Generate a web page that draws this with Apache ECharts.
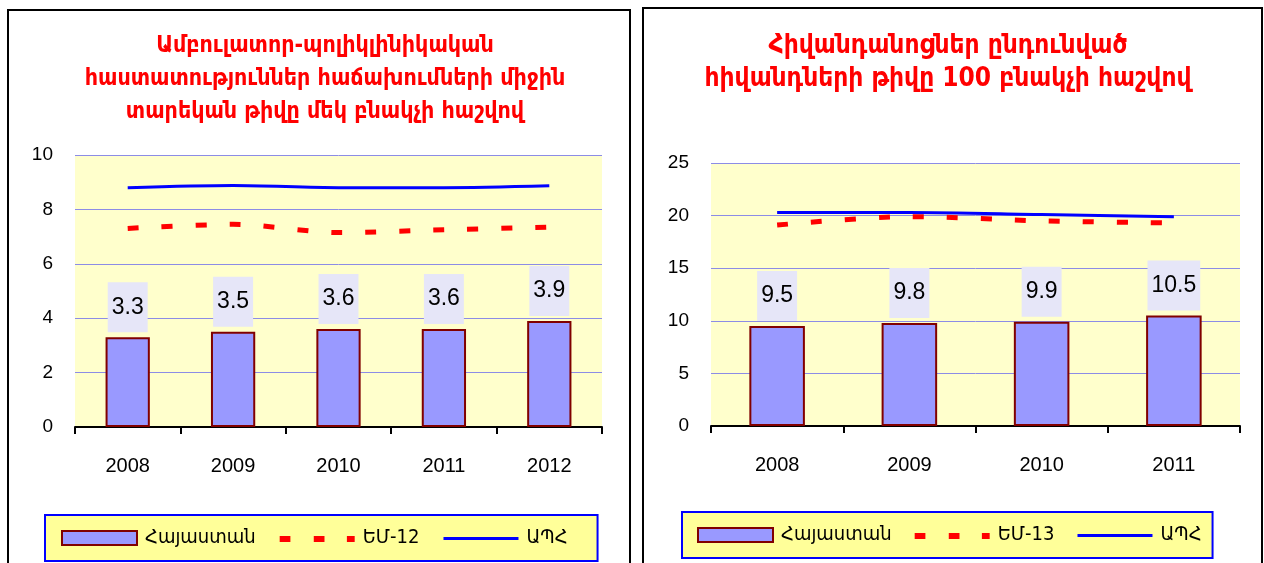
<!DOCTYPE html>
<html><head><meta charset="utf-8">
<script src="https://cdn.jsdelivr.net/npm/echarts@6/dist/echarts.min.js"></script>
<style>html,body{margin:0;padding:0;background:#fff}#c{width:1264px;height:563px}</style>
</head><body><div id="c"></div>
<script>
const yearsL = ['2008','2009','2010','2011','2012'];
const armeniaL = [3.3, 3.5, 3.6, 3.6, 3.9];
const eu12 = [7.3, 7.45, 7.15, 7.25, 7.35];
const cisL = [8.8, 8.88, 8.8, 8.8, 8.87];
const yearsR = ['2008','2009','2010','2011'];
const armeniaR = [9.5, 9.8, 9.9, 10.5];
const eu13 = [19.1, 19.9, 19.5, 19.3];
const cisR = [20.3, 20.3, 20.1, 19.9];
const titleL = 'Ամբուլատոր-պոլիկլինիկական\nհաստատություններ հաճախումների միջին\nտարեկան թիվը մեկ բնակչի հաշվով';
const titleR = 'Հիվանդանոցներ ընդունված\nհիվանդների թիվը 100 բնակչի հաշվով';
const nameA = 'Հայաստան', nameEU12 = 'ԵՄ-12', nameEU13 = 'ԵՄ-13', nameCIS = 'ԱՊՀ';

const FONT = "'Liberation Sans', 'DejaVu Sans', Arial, sans-serif";
const CFONT = "'DejaVu Sans Condensed', 'DejaVu Sans', sans-serif";
const chart = echarts.init(document.getElementById('c'), null, {renderer: 'canvas'});

const ICON_DASH = 'path://M0,0 M0,5h11v6h-11z M35,5h11v6h-11z M69,5h8v6h-8z M77,14';
const ICON_LINE = 'path://M0,0 M0,6h75v3h-75z M75,14';

function xAxis(idx, data) {
  return {
    type: 'category', gridIndex: idx, data: data, boundaryGap: true,
    axisLine: {lineStyle: {color: '#000', width: 2}},
    axisTick: {show: true, length: 7, lineStyle: {color: '#000', width: 2}},
    axisLabel: {color: '#000', fontSize: 20, fontFamily: FONT, margin: 29}
  };
}
function yAxis(idx, max, interval) {
  return {
    type: 'value', gridIndex: idx, min: 0, max: max, interval: interval,
    axisLine: {show: false}, axisTick: {show: false},
    axisLabel: {color: '#000', fontSize: 19, fontFamily: FONT, margin: 22},
    splitLine: {lineStyle: {color: '#8c8ce6', width: 1}}
  };
}
function barSeries(idx, data, bw) {
  return {
    name: nameA, type: 'bar', xAxisIndex: idx, yAxisIndex: idx, data: data, barWidth: bw,
    itemStyle: {color: '#9999ff', borderColor: '#800000', borderWidth: 2},
    label: {show: true, position: 'top', distance: 5, color: '#000', fontSize: 23, fontFamily: FONT,
      backgroundColor: '#e6e6f8', padding: [13, 4, 13, 4], lineHeight: 24}
  };
}
function lineSeries(idx, name, data, color, width, type) {
  return {
    name: name, type: 'line', xAxisIndex: idx, yAxisIndex: idx, data: data, smooth: 0.3,
    symbol: 'none', z: 5,
    lineStyle: {color: color, width: width, type: type, cap: 'butt'},
    itemStyle: {color: color}
  };
}
function legend(left, top, euName, pad, gap) {
  return {
    left: left, top: top, orient: 'horizontal',
    data: [
      {name: nameA, icon: 'rect'},
      {name: euName, icon: ICON_DASH, itemStyle: {borderWidth: 0}},
      {name: nameCIS, icon: ICON_LINE, itemStyle: {borderWidth: 0}}
    ],
    backgroundColor: '#ffff99', borderColor: '#0000ff', borderWidth: 2, borderRadius: 0,
    padding: pad, itemWidth: 75, itemHeight: 14, itemGap: gap,
    textStyle: {color: '#000', fontSize: 20, fontFamily: CFONT, padding: [0, 0, 0, 3]}
  };
}

chart.setOption({
  animation: false,
  backgroundColor: '#fff',
  title: [
    {text: titleL, left: 320, top: 25, textAlign: 'center',
      textStyle: {color: '#ff0000', fontSize: 23, fontWeight: 'bold', fontFamily: CFONT, lineHeight: 33}},
    {text: titleR, left: 943, top: 25, textAlign: 'center',
      textStyle: {color: '#ff0000', fontSize: 26, fontWeight: 'bold', fontFamily: CFONT, lineHeight: 33}}
  ],
  legend: [
    legend(45, 515, nameEU12, [13, 30, 13, 16], 24),
    legend(682, 512, nameEU13, [13, 11, 13, 15], 23)
  ],
  grid: [
    {left: 75, right: 662, top: 155, bottom: 136, show: true, backgroundColor: '#ffffcc', borderWidth: 0},
    {left: 711, right: 24, top: 163, bottom: 137, show: true, backgroundColor: '#ffffcc', borderWidth: 0}
  ],
  xAxis: [xAxis(0, yearsL), xAxis(1, yearsR)],
  yAxis: [yAxis(0, 10, 2), yAxis(1, 25, 5)],
  series: [
    barSeries(0, armeniaL, '42%'),
    lineSeries(0, nameEU12, eu12, '#ff0000', 5, [11, 23]),
    lineSeries(0, nameCIS, cisL, '#0000ff', 3, 'solid'),
    barSeries(1, armeniaR, '42%'),
    lineSeries(1, nameEU13, eu13, '#ff0000', 5, [11, 23]),
    lineSeries(1, nameCIS, cisR, '#0000ff', 3, 'solid')
  ],
  graphic: [
    {type: 'rect', shape: {x: 8, y: 10, width: 622, height: 600}, silent: true, z: -10,
      style: {fill: 'none', stroke: '#000', lineWidth: 2}},
    {type: 'rect', shape: {x: 643, y: 8, width: 619, height: 600}, silent: true, z: -10,
      style: {fill: 'none', stroke: '#000', lineWidth: 2}}
  ]
});
</script></body></html>
